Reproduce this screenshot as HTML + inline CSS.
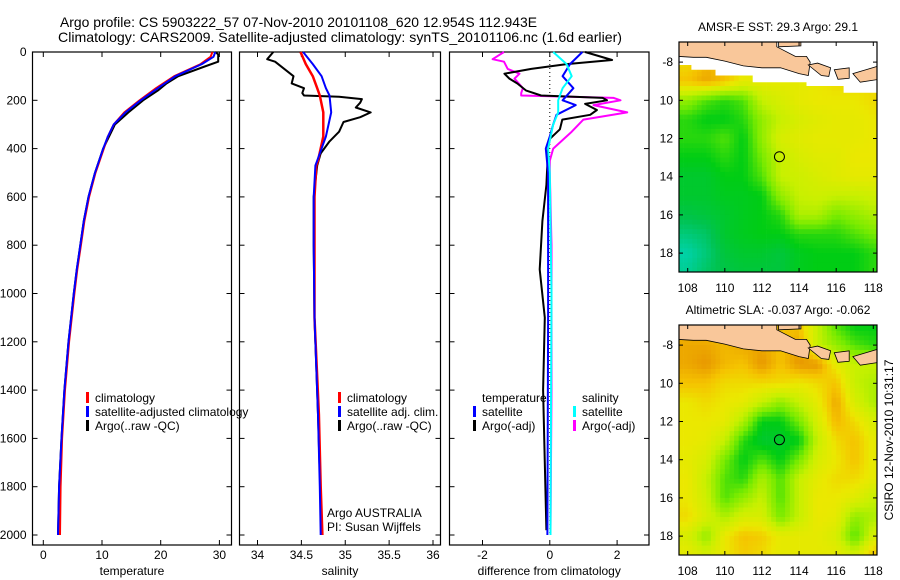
<!DOCTYPE html>
<html><head><meta charset="utf-8"><style>
html,body{margin:0;padding:0;background:#fff;}
svg{display:block;font-family:"Liberation Sans",sans-serif;}
</style></head><body>
<svg id="fig" width="900" height="580" viewBox="0 0 900 580" xmlns="http://www.w3.org/2000/svg">
<text x="60" y="27" font-size="14" textLength="477" lengthAdjust="spacingAndGlyphs">Argo profile: CS 5903222_57 07-Nov-2010 20101108_620 12.954S 112.943E</text>
<text x="58" y="42" font-size="14" textLength="564" lengthAdjust="spacingAndGlyphs">Climatology: CARS2009. Satellite-adjusted climatology: synTS_20101106.nc (1.6d earlier)</text>
<text transform="translate(893,440) rotate(-90)" font-size="12" text-anchor="middle">CSIRO 12-Nov-2010 10:31:17</text>
<g id="layers"></g>
</svg>
<script>
// ---- Temperature panel data ----
const tDepth = [0,20,50,100,150,200,250,300,350,400,500,600,700,800,900,1000,1200,1400,1600,1800,2000];
const tClim  = [28.8,28.5,26.8,22.3,19.2,16.4,13.8,12.0,11.0,10.3,8.9,7.8,7.0,6.4,5.8,5.3,4.4,3.7,3.2,2.95,2.85];
const tSat   = [29.3,29.0,27.0,22.5,19.5,16.6,14.0,12.0,11.0,10.2,8.8,7.7,6.9,6.3,5.7,5.2,4.3,3.6,3.1,2.7,2.5];
const tArgoDepth = [0,10,40,60,100,130,160,200,250,300,400,500,600,700,800,900,1000,1200,1400,1600,1800,2000];
const tArgo = [29.3,29.8,29.8,27.5,23.0,21.0,19.5,17.0,14.5,12.2,10.2,8.8,7.7,6.9,6.3,5.7,5.2,4.3,3.6,3.1,2.7,2.5];
// ---- Salinity panel data ----
const sDepth = [0,50,100,150,180,250,350,450,470,600,800,1100,1500,1800,2000];
const sClim  = [34.49,34.55,34.63,34.68,34.71,34.75,34.75,34.69,34.67,34.65,34.65,34.65,34.70,34.72,34.74];
const sSat   = [34.52,34.63,34.73,34.78,34.82,34.84,34.78,34.68,34.66,34.64,34.64,34.65,34.69,34.71,34.72];
const sArgoDepth = [0,30,40,100,130,150,170,180,185,195,210,230,250,270,290,330,370,420,470,600,800,1100,1500,1750];
const sArgo = [34.18,34.11,34.20,34.41,34.39,34.53,34.51,34.53,34.93,35.19,35.17,35.12,35.29,35.17,34.98,34.93,34.82,34.72,34.68,34.64,34.64,34.65,34.69,34.71];
// ---- Difference panel data ----
const dTArgoDepth = [0,33,50,70,90,110,130,160,180,190,200,215,240,260,280,320,360,400,550,700,900,1100,1400,1700,1980];
const dTArgo = [1.05,1.85,0.5,-0.55,-1.35,-1.2,-0.97,-0.7,-0.26,1.57,1.7,1.05,1.4,1.2,0.37,0.3,0.0,-0.05,-0.1,-0.22,-0.3,-0.15,-0.2,-0.15,-0.1];
const dTSatDepth = [0,50,100,150,200,220,260,300,350,400,500,1100,2000];
const dTSat = [0.97,0.6,0.38,0.7,0.38,0.77,0.2,0.1,0.0,-0.12,-0.05,-0.05,-0.07];
const dSSatDepth = [0,50,100,150,200,250,300,400,500,1000,2000];
const dSSat = [0.1,0.5,0.65,0.38,0.25,0.25,0.1,-0.05,0.0,0.05,0.02];
const dSArgoDepth = [0,30,40,70,90,110,150,170,180,190,200,220,250,280,330,400,450,500,800,1400,1980];
const dSArgo = [-1.36,-1.7,-1.36,-1.25,-0.9,-1.05,-0.8,-0.85,-0.85,1.9,2.1,1.3,2.3,1.0,0.65,0.1,0.0,0.0,0.05,0.05,0.02];
// ---- Map data (rows: lat -7..-19, cols: lon 108..118), normalised colour value ----
const sstGrid = [
[0.8,0.8,0.8,0.8,0.8,0.8,0.8,0.8,0.8,0.8,0.85],
[0.75,0.82,0.8,0.75,0.72,0.72,0.72,0.72,0.75,0.75,0.8],
[0.8,0.85,0.8,0.7,0.7,0.7,0.7,0.72,0.75,0.75,0.75],
[0.5,0.4,0.35,0.4,0.6,0.65,0.7,0.72,0.72,0.72,0.75],
[0.35,0.3,0.3,0.35,0.5,0.6,0.65,0.68,0.7,0.7,0.72],
[0.35,0.35,0.4,0.3,0.5,0.65,0.68,0.7,0.7,0.7,0.72],
[0.3,0.3,0.35,0.3,0.45,0.6,0.65,0.68,0.68,0.72,0.72],
[0.25,0.25,0.3,0.3,0.4,0.6,0.62,0.65,0.68,0.7,0.7],
[0.25,0.25,0.28,0.28,0.3,0.5,0.6,0.62,0.6,0.6,0.62],
[0.2,0.22,0.25,0.28,0.3,0.35,0.55,0.55,0.45,0.5,0.55],
[0.12,0.15,0.25,0.28,0.3,0.3,0.35,0.35,0.35,0.4,0.45],
[0.05,0.12,0.22,0.25,0.25,0.22,0.28,0.3,0.3,0.3,0.35],
[0.08,0.15,0.2,0.22,0.22,0.22,0.28,0.3,0.3,0.3,0.35]];
const slaGrid = [
[0.8,0.8,0.8,0.8,0.8,0.8,0.8,0.6,0.4,0.3,0.3],
[0.85,0.85,0.82,0.85,0.85,0.8,0.85,0.6,0.5,0.4,0.35],
[0.85,0.88,0.82,0.8,0.88,0.8,0.88,0.88,0.7,0.6,0.6],
[0.8,0.8,0.75,0.75,0.75,0.75,0.72,0.75,0.8,0.6,0.55],
[0.72,0.75,0.72,0.7,0.6,0.5,0.6,0.7,0.85,0.65,0.55],
[0.72,0.72,0.7,0.55,0.3,0.3,0.45,0.65,0.82,0.75,0.65],
[0.72,0.7,0.6,0.35,0.25,0.25,0.3,0.6,0.75,0.8,0.7],
[0.7,0.65,0.45,0.3,0.4,0.3,0.45,0.65,0.72,0.8,0.7],
[0.72,0.6,0.4,0.35,0.55,0.4,0.6,0.7,0.75,0.75,0.7],
[0.72,0.62,0.4,0.5,0.6,0.4,0.6,0.72,0.72,0.68,0.6],
[0.75,0.65,0.55,0.65,0.65,0.45,0.6,0.72,0.7,0.5,0.55],
[0.65,0.5,0.72,0.8,0.78,0.7,0.7,0.7,0.65,0.4,0.65],
[0.7,0.65,0.72,0.78,0.75,0.7,0.7,0.7,0.7,0.65,0.8]];
const mapXTicks = [108,110,112,114,116,118];
const mapYTicks = [-8,-10,-12,-14,-16,-18];
const mapYLabels = ["-8","10","12","14","16","18"];
const depthTicks = [0,200,400,600,800,1000,1200,1400,1600,1800,2000];
const tTicks = [0,10,20,30];
const sTicks = [34,34.5,35,35.5,36];
const sTickLabels = ["34","34.5","35","35.5","36"];
const dTicks = [-2,0,2];
const argoLon = 112.943, argoLat = -12.954;

const NS="http://www.w3.org/2000/svg";
const root=document.getElementById('layers');
function mk(tag,attrs,parent){const e=document.createElementNS(NS,tag);for(const k in attrs)e.setAttribute(k,attrs[k]);(parent||root).appendChild(e);return e;}
function txt(x,y,s,size,anchor,parent){const e=mk('text',{x:x,y:y,'font-size':size,'text-anchor':anchor||'middle'},parent);e.textContent=s;return e;}

const yTop=52, yBot=545;
const yD=d=>yTop+d*0.2415;
const panels=[
 {name:'temperature',x0:32.5,x1:231.5,fx:v=>43.3+5.87*v,ticks:tTicks,labels:tTicks.map(String),title:'temperature'},
 {name:'salinity',x0:239.5,x1:440.5,fx:v=>257.5+87.75*(v-34),ticks:sTicks,labels:sTickLabels,title:'salinity'},
 {name:'difference',x0:449.5,x1:649,fx:v=>549.8+33.65*v,ticks:dTicks,labels:['-2','0','2'],title:'difference from climatology'}
];
panels.forEach((p,i)=>{
  const g=mk('g',{});
  
  
  const box=mk('rect',{x:p.x0,y:yTop,width:p.x1-p.x0,height:yBot-yTop,fill:'none',stroke:'#000','stroke-width':1.2},g);
  
  
  depthTicks.forEach(d=>{
    const y=yD(d);
    mk('line',{x1:p.x0,x2:p.x0+5,y1:y,y2:y,stroke:'#000'},g);
    mk('line',{x1:p.x1,x2:p.x1-5,y1:y,y2:y,stroke:'#000'},g);
    if(i===0){const t=txt(p.x0-6,y+4,String(d),12,'end',g);
      
      }
  });
  p.ticks.forEach((v,k)=>{
    const x=p.fx(v);
    mk('line',{x1:x,x2:x,y1:yBot,y2:yBot-5,stroke:'#000'},g);
    mk('line',{x1:x,x2:x,y1:yTop,y2:yTop+5,stroke:'#000'},g);
    const t=txt(x,559,p.labels[k],12,'middle',g);
    
    
  });
  const at=txt((p.x0+p.x1)/2,575,p.title,12,'middle',g);
  
  
});
function line(depths,vals,fx,color,w,name){
  const pts=depths.map((d,i)=>fx(vals[i]).toFixed(1)+','+yD(d).toFixed(1)).join(' ');
  const e=mk('polyline',{points:pts,fill:'none',stroke:color,'stroke-width':w,'stroke-linejoin':'round'});
  
  
  return e;
}
const zx=panels[2].fx(0);
const zl=mk('line',{x1:zx,x2:zx,y1:yTop,y2:yBot-10,stroke:'#000','stroke-dasharray':'1,3','stroke-width':1});


line(tArgoDepth,tArgo,panels[0].fx,'#000',2,'temperature-argo-line');
line(tDepth,tClim,panels[0].fx,'#f00',2,'temperature-climatology-line');
line(tDepth,tSat,panels[0].fx,'#00f',2,'temperature-satellite-line');
line(sArgoDepth,sArgo,panels[1].fx,'#000',2,'salinity-argo-line');
line(sDepth,sClim,panels[1].fx,'#f00',2.5,'salinity-climatology-line');
line(sDepth,sSat,panels[1].fx,'#00f',2,'salinity-satellite-line');
line(dSArgoDepth,dSArgo,panels[2].fx,'#f0f',2,'salinity-argo-diff-line');
line(dTArgoDepth,dTArgo,panels[2].fx,'#000',2,'temperature-argo-diff-line');
line(dTSatDepth,dTSat,panels[2].fx,'#00f',2,'temperature-satellite-diff-line');
line(dSSatDepth,dSSat,panels[2].fx,'#0ff',2,'salinity-satellite-diff-line');

function legendEntry(x,y,color,label,name){
  const g=mk('g',{});
  
  
  if(color) mk('rect',{x:x,y:y-10,width:3,height:11,fill:color},g);
  txt(x+9,y,label,12,'start',g);
}
legendEntry(86,402,'#f00','climatology','legend-climatology');
legendEntry(86,416,'#00f','satellite-adjusted climatology','legend-satellite-adjusted');
legendEntry(86,430,'#000','Argo(..raw -QC)','legend-argo');
legendEntry(338,402,'#f00','climatology','legend-sal-climatology');
legendEntry(338,416,'#00f','satellite adj. clim.','legend-sal-satellite');
legendEntry(338,430,'#000','Argo(..raw -QC)','legend-sal-argo');
legendEntry(473,402,null,'temperature','legend-temperature-header');
legendEntry(473,416,'#00f','satellite','legend-temp-satellite');
legendEntry(473,430,'#000','Argo(-adj)','legend-temp-argo');
legendEntry(573,402,null,'salinity','legend-salinity-header');
legendEntry(573,416,'#0ff','satellite','legend-sal-sat-diff');
legendEntry(573,430,'#f0f','Argo(-adj)','legend-sal-argo-diff');
const a1=txt(327,517,'Argo AUSTRALIA',12,'start');


const a2=txt(327,531,'PI: Susan Wijffels',12,'start');



// ---- Maps ----
const stops=[[0,[0,215,200]],[0.18,[0,195,80]],[0.3,[0,205,20]],[0.45,[120,235,0]],[0.6,[200,240,0]],[0.72,[235,232,0]],[0.8,[245,195,0]],[0.9,[228,140,0]],[1,[210,100,0]]];
function cmap(v){
  for(let i=1;i<stops.length;i++){if(v<=stops[i][0]){const a=stops[i-1],b=stops[i],t=(v-a[0])/(b[0]-a[0]);
    return 'rgb('+a[1].map((c,k)=>Math.round(c+(b[1][k]-c)*t)).join(',')+')';}}
  return 'rgb(210,100,0)';
}
function sample(grid,lon,lat){
  let c=Math.min(10,Math.max(0,lon-108)), r=Math.min(12,Math.max(0,-7-lat));
  const c0=Math.min(9,Math.floor(c)), r0=Math.min(11,Math.floor(r)), fc=c-c0, fr=r-r0;
  return grid[r0][c0]*(1-fc)*(1-fr)+grid[r0][c0+1]*fc*(1-fr)+grid[r0+1][c0]*(1-fc)*fr+grid[r0+1][c0+1]*fc*fr;
}
const land=[
 [[107.5,-6.9],[107.5,-7.7],[108.3,-7.75],[109,-7.75],[110,-7.95],[111,-8.2],[112,-8.3],[113,-8.3],[114,-8.6],[114.5,-8.7],[114.6,-8.0],[114.4,-7.7],[113.8,-7.7],[112.8,-7.2],[112.8,-6.9]],
 [[112.9,-6.9],[114.1,-6.9],[114.1,-7.15],[112.9,-7.2]],
 [[114.5,-8.15],[115.2,-8.7],[115.6,-8.75],[115.7,-8.3],[115.0,-8.05]],
 [[115.9,-8.4],[116.1,-8.9],[116.7,-8.85],[116.7,-8.3]],
 [[116.9,-8.6],[117.3,-9.05],[118.3,-8.9],[118.3,-8.2],[117.6,-8.4]]
];
function drawMap(oy,grid,title,name,white){
  const X=lon=>687.7+(lon-108)*18.56, Y=lat=>oy+1+(-7-lat)*19.1;
  const x0=679,x1=877,y0=oy,y1=oy+230;
  const g=mk('g',{});
  
  
  const cid='clip-'+name;
  const cp=mk('clipPath',{id:cid},g); mk('rect',{x:x0,y:y0,width:x1-x0,height:y1-y0},cp);
  const inner=mk('g',{'clip-path':'url(#'+cid+')'},g);
  for(let lat=-6.75;lat>-19.3;lat-=0.25){for(let lon=107.5;lon<118.3;lon+=0.25){
    const v=sample(grid,lon+0.125,lat-0.125);
    mk('rect',{x:X(lon).toFixed(1),y:Y(lat).toFixed(1),width:5,height:5.2,fill:cmap(v)},inner);
  }}
  if(white){
    const wp=white.map(p=>X(p[0]).toFixed(1)+','+Y(p[1]).toFixed(1)).join(' ');
    mk('polygon',{points:wp,fill:'#fff'},inner);
  }
  land.forEach(poly=>{
    const pts=poly.map(p=>X(p[0]).toFixed(1)+','+Y(p[1]).toFixed(1)).join(' ');
    const e=mk('polygon',{points:pts,fill:'#f9c79a',stroke:'#000','stroke-width':0.8},inner);
    
    
  });
  const c=mk('circle',{cx:X(argoLon),cy:Y(argoLat),r:5,fill:'none',stroke:'#000','stroke-width':1},g);
  
  
  mk('rect',{x:x0,y:y0,width:x1-x0,height:y1-y0,fill:'none',stroke:'#000','stroke-width':1.2},g);
  mapYTicks.forEach((v,k)=>{const y=Y(v);
    mk('line',{x1:x0,x2:x0+4,y1:y,y2:y,stroke:'#000'},g);mk('line',{x1:x1,x2:x1-4,y1:y,y2:y,stroke:'#000'},g);
    const t=txt(673,y+4,mapYLabels[k],12,'end',g);
    
    });
  mapXTicks.forEach(v=>{const x=X(v);
    mk('line',{x1:x,x2:x,y1:y0,y2:y0+4,stroke:'#000'},g);mk('line',{x1:x,x2:x,y1:y1,y2:y1-4,stroke:'#000'},g);
    const t=txt(x,y1+20,String(v),12,'middle',g);
    
    });
  const tt=txt(778,oy-11,title,12,'middle',g);
  
  
}
const sstWhite=[[107.5,-6.9],[118.3,-6.9],[118.3,-9.6],[116.4,-9.6],[116.4,-9.25],[114.4,-9.25],[114.4,-9.05],[111.5,-9.05],[111.5,-8.7],[109.5,-8.7],[109.5,-8.4],[108.2,-8.4],[108.2,-8.15],[107.5,-8.15]];
drawMap(42,sstGrid,'AMSR-E SST: 29.3 Argo: 29.1','sst-map',sstWhite);
drawMap(325,slaGrid,'Altimetric SLA: -0.037 Argo: -0.062','sla-map',null);
</script>
</body></html>
